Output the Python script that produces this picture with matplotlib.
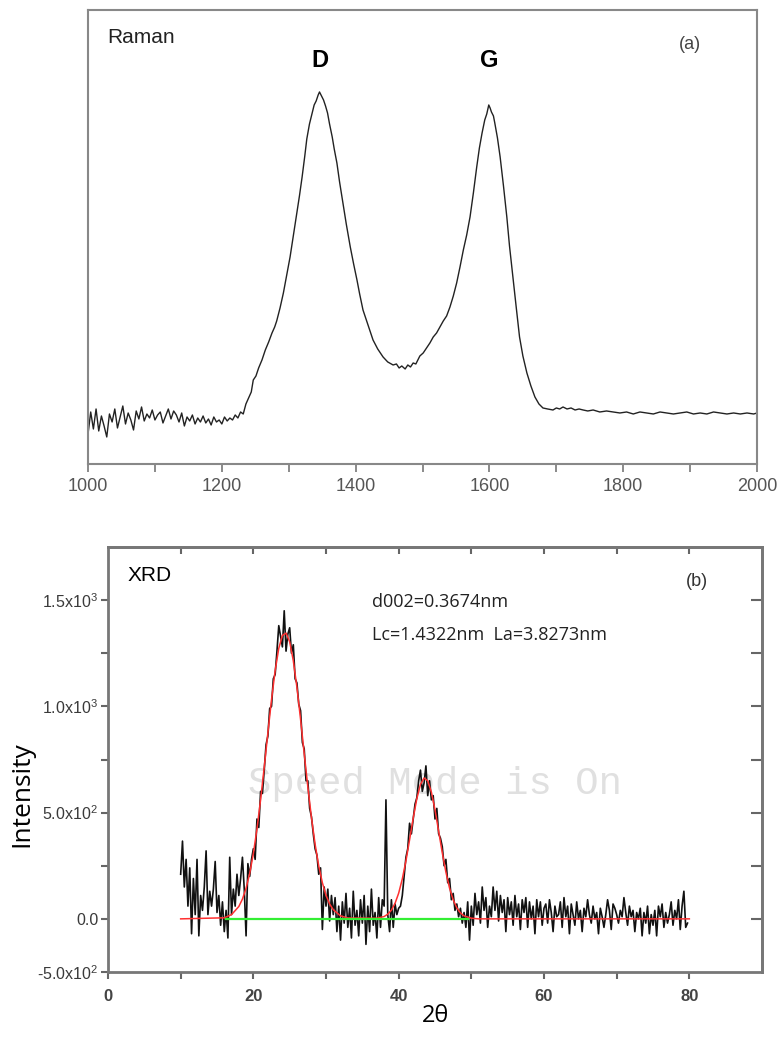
import matplotlib.pyplot as plt
import numpy as np

plt.rcParams['font.family'] = ['Liberation Sans', 'DejaVu Sans']
plt.rcParams['mathtext.fontset'] = 'custom'
plt.rcParams['mathtext.rm'] = 'Liberation Sans'
plt.rcParams['mathtext.it'] = 'Liberation Sans:italic'

# ---- (a) Raman spectrum, arbitrary intensity ----
raman_noise_start = 1000
raman_noise_step = 4
raman_noise = [30, 52, 35, 55, 33, 48, 38, 27, 50, 42,
               55, 36, 47, 58, 40, 51, 44, 34, 53, 45,
               57, 43, 50, 46, 54, 44, 49, 52, 41, 48,
               55, 45, 53, 49, 42, 51, 38, 47, 43, 49,
               40, 46, 42, 48, 41, 45, 39, 47, 42, 44,
               40, 47, 43, 46, 44, 49, 46, 52, 50, 60]

raman_points = [
    (1240, 66), (1244, 72), (1247, 84), (1251, 88), (1255, 96), (1260, 104),
    (1265, 114), (1270, 122), (1275, 131), (1279, 137), (1282, 143), (1287, 156),
    (1292, 171), (1297, 189), (1302, 207), (1307, 229), (1312, 251), (1316, 268),
    (1320, 287), (1324, 308), (1327, 325), (1331, 340), (1335, 351), (1338, 359),
    (1341, 363), (1344, 369), (1346, 372), (1349, 368), (1352, 364), (1355, 358),
    (1358, 351), (1361, 340), (1365, 327), (1368, 315), (1372, 301), (1376, 282),
    (1381, 261), (1386, 240), (1392, 217), (1397, 200), (1402, 184), (1406, 170),
    (1411, 154), (1418, 140), (1426, 124), (1433, 115), (1441, 107), (1448, 102),
    (1456, 99), (1461, 100), (1465, 96), (1469, 98), (1474, 95), (1478, 99),
    (1482, 97), (1486, 101), (1490, 100), (1496, 108), (1501, 111), (1506, 116),
    (1511, 121), (1516, 127), (1521, 131), (1526, 137), (1531, 143), (1536, 148),
    (1541, 157), (1546, 168), (1551, 181), (1556, 197), (1561, 214), (1566, 229),
    (1571, 247), (1576, 271), (1581, 297), (1585, 316), (1589, 331), (1593, 344),
    (1596, 350), (1599, 359), (1601, 356), (1603, 352), (1606, 348), (1608, 341),
    (1612, 326), (1616, 307), (1621, 278), (1626, 247), (1630, 218), (1635, 187),
    (1640, 157), (1645, 127), (1650, 108), (1656, 91), (1662, 78), (1668, 67),
    (1674, 60), (1680, 56), (1687, 55), (1695, 54), (1700, 56), (1705, 55),
    (1710, 57), (1716, 55), (1722, 56), (1728, 54), (1734, 55), (1740, 54),
    (1747, 53), (1755, 54), (1765, 52), (1775, 53), (1785, 52), (1795, 51),
    (1805, 52), (1815, 50), (1825, 52), (1835, 51), (1845, 50), (1855, 52),
    (1865, 51), (1875, 50), (1885, 51), (1895, 52), (1905, 50), (1915, 51),
    (1925, 50), (1935, 52), (1945, 51), (1955, 50), (1965, 51), (1975, 50),
    (1985, 51), (1995, 50), (2000, 51),
]

# ---- (b) XRD pattern, 0.25 deg steps from 10 deg, one row per degree ----
xrd_start = 10.0
xrd_step = 0.25
xrd_rows = [
    [210, 366, 150, 280], [60, 240, -70, 190], [20, 280, -80, 110],
    [40, 150, 320, 20], [130, 60, 140, 270], [30, 110, -30, 80],
    [-60, 40, -90, 290], [20, 140, 60, 210], [110, 190, 290, 140],
    [-80, 260, 200, 280], [330, 280, 470, 430], [600, 590, 700, 820],
    [860, 990, 1000, 1130], [1150, 1260, 1380, 1330], [1280, 1450, 1260, 1340],
    [1370, 1250, 1290, 1130], [1110, 1010, 980, 830], [800, 650, 650, 520],
    [480, 400, 330, 300], [210, 240, -50, 150], [60, 140, -10, 110],
    [20, 100, -60, 60], [-100, 80, -20, 120], [-40, 50, -90, 130],
    [-30, 40, -80, 90], [-20, 110, -120, 60], [-60, 140, -30, 30],
    [-90, 100, -40, 90], [60, 560, 20, -60], [90, -40, 70, 20],
    [50, 60, 110, 200], [290, 330, 450, 400], [470, 540, 570, 650],
    [700, 600, 640, 720], [580, 650, 560, 580], [470, 520, 400, 380],
    [340, 250, 280, 170], [190, 90, 120, 40], [70, 10, 50, -20],
    [30, -40, 80, -100], [60, -30, 120, 20], [80, -20, 150, 40],
    [100, -40, 60, 10], [150, 40, 130, -10], [110, 30, 90, -60],
    [100, 20, 80, -30], [110, 10, 70, -50], [90, 30, 100, -40],
    [80, 0, 60, -70], [90, 10, 80, -30], [50, 70, -20, 90],
    [30, -60, 60, 10], [20, 80, -40, 100], [10, 60, -70, 70],
    [20, -30, 80, 0], [40, -60, 50, 10], [90, 20, -20, 60],
    [0, 30, -70, 50], [10, -40, 20, 90], [40, -50, 70, 50],
    [20, -20, 40, 10], [100, 30, -30, 60], [10, 40, -60, 30],
    [0, 50, -80, 30], [-20, 60, -70, 20], [-30, 40, -80, 60],
    [10, 70, -40, 30], [-20, 20, 80, -30], [40, 0, 90, -50],
    [60, 130, -40, -20],
]

fit_theta = [10, 16, 17, 18, 18.5, 19, 19.5,
             20, 20.5, 21, 21.5, 22, 22.5, 23, 23.5, 24, 24.5, 25, 25.5,
             26, 26.5, 27, 27.5, 28, 28.5, 29, 29.5, 30, 30.5, 31,
             32, 33, 37, 38, 38.5,
             39, 39.5, 40, 40.5, 41, 41.5, 42, 42.5, 43, 43.5, 44, 44.5,
             45, 45.5, 46, 46.5, 47, 47.5, 48, 48.5, 49,
             50, 51, 80]
fit_int = [0, 5, 20, 58, 93, 144, 214,
           307, 423, 561, 714, 875, 1031, 1168, 1273, 1334, 1345, 1304, 1215,
           1089, 939, 778, 621, 476, 351, 249, 170, 111, 70, 43,
           14, 4, 3, 11, 22,
           41, 73, 121, 188, 273, 372, 474, 566, 633, 663, 650, 597,
           513, 413, 311, 220, 145, 90, 52, 28, 14,
           3, 0, 0]

base_theta = [16.3, 49.5]
base_int = [0, 0]

xrd_yticks = [-250, 0, 500, 1000, 1500]
xrd_yticklabels = ['-5.0x10$^{2}$', '0.0', '5.0x10$^{2}$', '1.0x10$^{3}$', '1.5x10$^{3}$']

fig = plt.figure(figsize=(7.77, 10.38), dpi=100)

# ---------- top panel ----------
ax1 = fig.add_axes([0.1133, 0.553, 0.861, 0.4374])
rs = [raman_noise_start + raman_noise_step * i for i in range(len(raman_noise))]
rs += [p[0] for p in raman_points]
ri = list(raman_noise) + [p[1] for p in raman_points]
ax1.plot(rs, ri, color='#222222', lw=1.0)
ax1.set_xlim(1000, 2000)
ax1.set_ylim(0, 454)
ax1.set_yticks([])
ax1.set_xticks(np.arange(1000, 2001, 200))
ax1.set_xticks(np.arange(1100, 2000, 200), minor=True)
ax1.tick_params(axis='x', which='both', direction='out', length=6,
                width=1.2, color='#777777', labelsize=13, labelcolor='#555555', pad=4)
for s in ax1.spines.values():
    s.set_color('#888888')
    s.set_linewidth(1.5)
ax1.text(0.029, 0.94, 'Raman', transform=ax1.transAxes, fontsize=15,
         color='#222222', va='center')
ax1.text(1346, 403, 'D', fontsize=17, fontweight='bold', ha='center', va='center')
ax1.text(1600, 403, 'G', fontsize=17, fontweight='bold', ha='center', va='center')
ax1.text(0.9, 0.925, '(a)', transform=ax1.transAxes, fontsize=13,
         color='#444444', ha='center', va='center')

# ---------- bottom panel ----------
ax2 = fig.add_axes([0.139, 0.0636, 0.8417, 0.4094])
xrd_int = np.array(xrd_rows).ravel()
xrd_theta = xrd_start + xrd_step * np.arange(len(xrd_int))
ax2.text(0.5, 0.443, 'Speed Mode is On', transform=ax2.transAxes,
         family='Liberation Mono', fontsize=28, color='#e0e0e0',
         ha='center', va='center', zorder=1)
ax2.plot(xrd_theta, xrd_int, color='#111111', lw=1.2, zorder=3)
ax2.plot(fit_theta, fit_int, color='#ff3030', lw=1.1, zorder=4)
ax2.plot(base_theta, base_int, color='#33ee33', lw=1.6, zorder=5)
ax2.set_xlim(0, 90)
ax2.set_ylim(-250, 1750)
ax2.set_xticks([0, 20, 40, 60, 80])
ax2.set_xticks([10, 30, 50, 70], minor=True)
ax2.set_yticks(xrd_yticks)
ax2.set_yticklabels(xrd_yticklabels)
ax2.set_yticks([250, 750, 1250], minor=True)
ax2.tick_params(which='both', direction='out', length=5, width=1.5,
                color='#666666', labelcolor='#3a3a3a')
ax2.tick_params(axis='x', labelsize=12, pad=7)
ax2.tick_params(axis='y', labelsize=11.5, pad=2)
for lab in ax2.get_xticklabels():
    lab.set_fontweight('bold')
    lab.set_color('#444444')
for s in ax2.spines.values():
    s.set_color('#777777')
    s.set_linewidth(2)

top = ax2.secondary_xaxis('top')
top.set_xticks(np.arange(10, 81, 10))
top.tick_params(direction='in', length=5, width=1.5, color='#666666', labeltop=False)
right = ax2.secondary_yaxis('right')
right.set_yticks([0, 250, 500, 750, 1000, 1250, 1500])
right.tick_params(direction='in', length=8, width=1.5, color='#666666', labelright=False)
for sec in (top, right):
    for s in sec.spines.values():
        s.set_color('#777777')
        s.set_linewidth(2)

ax2.set_xlabel('2θ', family=['Open Sans', 'DejaVu Sans'], fontsize=17, labelpad=0)
ax2.set_ylabel('Intensity', family=['Open Sans', 'DejaVu Sans'], fontsize=19)
ax2.yaxis.set_label_coords(-0.112, 0.419)
ax2.text(0.03, 0.932, 'XRD', transform=ax2.transAxes, fontsize=15, va='center')
ax2.text(0.9, 0.918, '(b)', transform=ax2.transAxes, fontsize=13,
         color='#333333', ha='center', va='center')
ax2.text(0.404, 0.870, 'd002=0.3674nm', transform=ax2.transAxes,
         family=['Open Sans', 'DejaVu Sans'], fontsize=13, va='center', color='#222222')
ax2.text(0.404, 0.793, 'Lc=1.4322nm  La=3.8273nm', transform=ax2.transAxes,
         family=['Open Sans', 'DejaVu Sans'], fontsize=13, va='center', color='#222222')

fig.savefig('out.png', dpi=100)
